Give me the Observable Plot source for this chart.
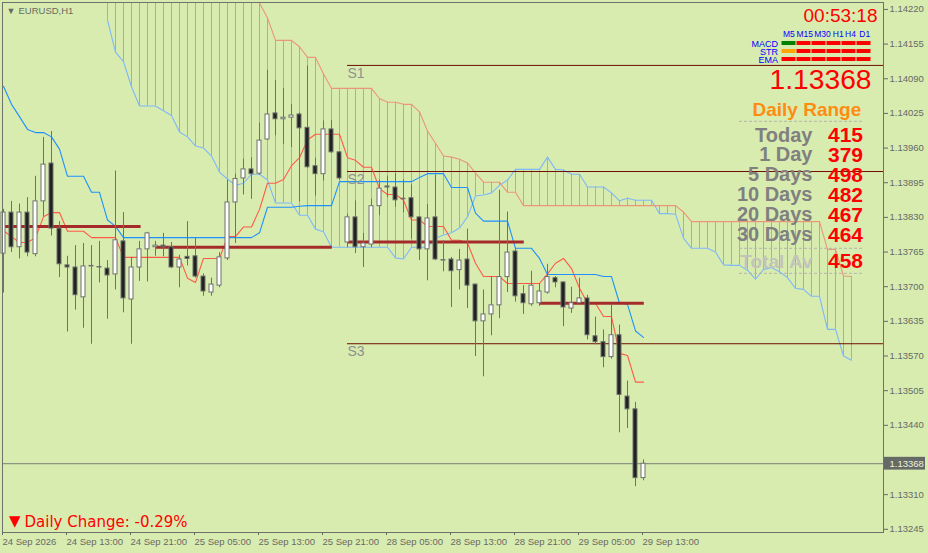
<!DOCTYPE html>
<html><head><meta charset="utf-8">
<style>html,body{margin:0;padding:0;background:#d9ecb0;overflow:hidden}svg{display:block}</style>
<script src="https://cdn.jsdelivr.net/npm/d3@7"></script>
<script src="https://cdn.jsdelivr.net/npm/@observablehq/plot@0.6"></script>
</head><body><script>
const open=[1.13762,1.13839,1.13774,1.13839,1.13761,1.13860,1.13931,1.13809,1.13740,1.13736,
1.13680,1.13738,1.13736,1.13734,1.13723,1.13785,1.13676,1.13736,1.13770,1.13774,
1.13777,1.13774,1.13736,1.13756,1.13757,1.13719,1.13689,1.13702,1.13753,1.13858,
1.13903,1.13920,1.13912,1.13976,1.14025,1.14014,1.14017,1.14023,1.13998,1.13926,
1.13911,1.13995,1.13952,1.13783,1.13830,1.13774,1.13779,1.13851,1.13888,1.13886,
1.13864,1.13866,1.13830,1.13770,1.13830,1.13749,1.13751,1.13731,1.13751,1.13704,
1.13635,1.13648,1.13665,1.13718,1.13766,1.13686,1.13667,1.13669,1.13689,1.13716,
1.13708,1.13659,1.13669,1.13678,1.13607,1.13596,1.13568,1.13609,1.13494,1.13470,1.13341];
const high=[1.13845,1.13860,1.13855,1.13867,1.13907,1.13980,1.13991,1.13822,1.13757,1.13777,
1.13781,1.13777,1.13785,1.13749,1.13917,1.13839,1.13755,1.13785,1.13802,1.13785,
1.13800,1.13783,1.13759,1.13822,1.13792,1.13724,1.13716,1.13764,1.13900,1.13911,
1.13939,1.13942,1.14007,1.14106,1.14087,1.14072,1.14042,1.14026,1.14114,1.13941,
1.14011,1.14012,1.13953,1.13836,1.13861,1.13800,1.13864,1.13900,1.13907,1.13912,
1.13900,1.13891,1.13831,1.13854,1.13909,1.13786,1.13755,1.13770,1.13808,1.13705,
1.13694,1.13719,1.13881,1.13840,1.13772,1.13702,1.13729,1.13706,1.13742,1.13719,
1.13709,1.13699,1.13716,1.13684,1.13643,1.13619,1.13665,1.13628,1.13523,1.13483,1.13375];
const low=[1.13688,1.13764,1.13752,1.13756,1.13756,1.13831,1.13795,1.13717,1.13615,1.13656,
1.13622,1.13592,1.13707,1.13639,1.13694,1.13651,1.13592,1.13710,1.13709,1.13757,
1.13756,1.13734,1.13698,1.13739,1.13716,1.13682,1.13682,1.13698,1.13749,1.13781,
1.13872,1.13864,1.13909,1.13974,1.13983,1.13967,1.13961,1.13859,1.13922,1.13870,
1.13898,1.13950,1.13899,1.13773,1.13762,1.13736,1.13773,1.13833,1.13867,1.13849,
1.13839,1.13789,1.13749,1.13711,1.13749,1.13728,1.13661,1.13694,1.13659,1.13569,
1.13531,1.13608,1.13640,1.13689,1.13671,1.13648,1.13663,1.13663,1.13686,1.13698,
1.13625,1.13650,1.13668,1.13600,1.13591,1.13548,1.13564,1.13426,1.13434,1.13325,1.13336];
const close=[1.13839,1.13774,1.13839,1.13764,1.13860,1.13929,1.13809,1.13742,1.13736,1.13684,
1.13738,1.13738,1.13736,1.13721,1.13787,1.13678,1.13736,1.13770,1.13800,1.13777,
1.13774,1.13736,1.13751,1.13752,1.13719,1.13691,1.13704,1.13755,1.13858,1.13902,
1.13920,1.13911,1.13974,1.14023,1.14014,1.14017,1.14021,1.13997,1.13924,1.13911,
1.13995,1.13952,1.13903,1.13830,1.13774,1.13781,1.13851,1.13884,1.13886,1.13862,
1.13864,1.13830,1.13770,1.13828,1.13751,1.13749,1.13729,1.13749,1.13702,1.13635,
1.13648,1.13665,1.13718,1.13764,1.13682,1.13669,1.13702,1.13691,1.13718,1.13708,
1.13661,1.13669,1.13678,1.13609,1.13596,1.13568,1.13609,1.13497,1.13470,1.13341,1.13368];
const tenkan=[1.13805,1.13794,1.13783,1.13783,1.13792,1.13831,1.13839,1.13839,1.13804,1.13804,
1.13804,1.13792,1.13792,1.13792,1.13792,1.13755,1.13755,1.13755,1.13755,1.13755,
1.13755,1.13755,1.13755,1.13716,1.13708,1.13753,1.13753,1.13753,1.13794,1.13794,
1.13812,1.13812,1.13845,1.13894,1.13894,1.13901,1.13927,1.13942,1.13975,1.13986,
1.13986,1.13986,1.13986,1.13942,1.13937,1.13924,1.13924,1.13884,1.13873,1.13873,
1.13862,1.13825,1.13825,1.13813,1.13813,1.13813,1.13787,1.13787,1.13782,1.13744,
1.13719,1.13719,1.13719,1.13706,1.13706,1.13706,1.13706,1.13706,1.13724,1.13744,
1.13753,1.13734,1.13697,1.13669,1.13669,1.13644,1.13644,1.13575,1.13571,1.13521,1.13521];
const kijun=[1.14076,1.14042,1.14019,1.13995,1.13989,1.13989,1.13981,1.13958,1.13907,1.13907,
1.13907,1.13877,1.13877,1.13825,1.13813,1.13792,1.13792,1.13792,1.13792,1.13792,
1.13792,1.13792,1.13792,1.13792,1.13792,1.13792,1.13792,1.13792,1.13792,1.13792,
1.13792,1.13792,1.13801,1.13849,1.13849,1.13849,1.13849,1.13851,1.13852,1.13852,
1.13852,1.13852,1.13897,1.13897,1.13897,1.13897,1.13897,1.13897,1.13897,1.13897,
1.13897,1.13897,1.13905,1.13912,1.13912,1.13912,1.13886,1.13886,1.13886,1.13838,
1.13823,1.13823,1.13823,1.13823,1.13772,1.13772,1.13772,1.13753,1.13723,1.13723,
1.13723,1.13723,1.13723,1.13723,1.13723,1.13719,1.13719,1.13669,1.13667,1.13617,1.13605];
// Cloud spans: both run from bar 13 to bar 106 (26 bars past the last candle).
const spanStart=13;
const spanA=[1.14200,1.14140,1.14122,1.14075,1.14039,1.14039,1.14039,1.14030,1.14021,
1.13990,1.13981,1.13964,1.13960,1.13945,1.13915,1.13902,1.13890,1.13894,1.13911,
1.13911,1.13900,1.13857,1.13857,1.13857,1.13834,1.13834,1.13808,1.13803,1.13774,
1.13774,1.13774,1.13774,1.13774,1.13774,1.13774,1.13774,1.13754,1.13752,1.13774,
1.13774,1.13774,1.13791,1.13797,1.13801,1.13810,1.13831,1.13870,1.13872,1.13876,
1.13890,1.13900,1.13920,1.13920,1.13920,1.13920,1.13943,1.13920,1.13919,1.13911,
1.13911,1.13887,1.13887,1.13887,1.13876,1.13861,1.13866,1.13862,1.13862,1.13862,
1.13837,1.13837,1.13836,1.13791,1.13772,1.13772,1.13772,1.13765,1.13741,1.13740,
1.13740,1.13731,1.13714,1.13732,1.13736,1.13728,1.13717,1.13697,1.13695,1.13682,
1.13682,1.13620,1.13620,1.13570,1.13562];
const spanB=[1.14245,1.14245,1.14245,1.14245,1.14245,1.14245,1.14245,1.14245,1.14245,
1.14245,1.14245,1.14245,1.14245,1.14245,1.14245,1.14245,1.14245,1.14245,1.14245,
1.14232,1.14204,1.14162,1.14162,1.14162,1.14150,1.14130,1.14130,1.14099,1.14072,
1.14072,1.14072,1.14072,1.14072,1.14072,1.14053,1.14046,1.14046,1.14042,1.14042,
1.14028,1.13992,1.13969,1.13945,1.13943,1.13939,1.13932,1.13913,1.13896,1.13896,
1.13896,1.13877,1.13877,1.13852,1.13852,1.13852,1.13852,1.13852,1.13852,1.13852,
1.13852,1.13852,1.13852,1.13852,1.13852,1.13852,1.13852,1.13852,1.13852,1.13852,
1.13852,1.13852,1.13852,1.13840,1.13822,1.13822,1.13822,1.13822,1.13822,1.13822,
1.13822,1.13822,1.13822,1.13822,1.13822,1.13822,1.13822,1.13822,1.13822,1.13822,
1.13822,1.13770,1.13770,1.13720,1.13719];
const pivotFrom=[0.2,19.1,43.1,67.1];
const pivotTo=[17.2,41.1,65.1,80.1];
const pivotLevel=[1.13813,1.13774,1.13784,1.13669];
const supportNames=["S1","S2","S3"];
const supportLevels=[1.14115,1.13916,1.13593];
const lastPrice=1.13368;
const yTicks=[1.14220,1.14155,1.14090,1.14025,1.13960,1.13895,1.13830,1.13765,1.13700,1.13635,1.13570,1.13505,1.13440,1.13375,1.13310,1.13245];
const xTickBars=[0,8,16,24,32,40,48,56,64,72,80];
const xTickLabels=["24 Sep 2026","24 Sep 13:00","24 Sep 21:00","25 Sep 05:00","25 Sep 13:00","25 Sep 21:00","28 Sep 05:00","28 Sep 13:00","28 Sep 21:00","29 Sep 05:00","29 Sep 13:00"];
const rangeNames=["Today","1 Day","5 Days","10 Days","20 Days","30 Days","Total Av"];
const rangeValues=[415,379,498,482,467,464,458];
const tfNames=["M5","M15","M30","H1","H4","D1"];
const signalNames=["MACD","STR","EMA"];
const macdSignal=["green","red","red","red","red","red"];
const strSignal=["orange","red","red","red","red","red"];
const emaSignal=["red","red","red","red","red","red"];

const bars=open.map((o,i)=>({i,o,h:high[i],l:low[i],c:close[i]}));
const cloud=spanA.map((a,j)=>({i:j+spanStart,a,b:spanB[j]}));
const W=928,H=553,mL=2,mT=2,mR=45,mB=21;
const yTop=1.14233,yBot=1.13239;
const invX=p=>(p-3)/8;
const invY=p=>yTop-(p-2.5)*(yTop-yBot)/530;
const GRAY="#666a66",SANS="Liberation Sans",SALMON="#ea9678",SKY="#7db8f8";
const label=(s,px,py,o={})=>Plot.text([s],{text:d=>d,frameAnchor:"top-left",dx:px-mL,dy:py-mT,lineAnchor:"middle",textAnchor:"start",fontFamily:SANS,...o});

const cellX1=[782,797,812,827,842,857],cellX2=[796,811,826,841,856,871],cellY1=[41.5,49.5,57.5],cellY2=[45.5,53.5,61.5];
const tfX=[788.3,804.2,822,837.7,850,864.2],rowY=[43.8,51.8,59.6],rangeY=[135,154.5,174.5,194.5,214.5,234.5,261];
const signals=[macdSignal,strSignal,emaSignal].flatMap((row,r)=>row.map((fill,c)=>({r,c,fill})));

const chart=Plot.plot({
  width:W,height:H,marginLeft:mL,marginTop:mT,marginRight:mR,marginBottom:mB,
  style:{background:"#d9ecb0",fontFamily:SANS,fontSize:"9.5px",overflow:"visible"},
  x:{type:"linear",domain:[0,110],range:[mL+1,W-mR]},
  y:{type:"linear",domain:[yTop,yBot],range:[mT,H-mB]},
  marks:[
    Plot.ruleX(cloud.filter(d=>d.a<=d.b),{x:"i",y1:"a",y2:"b",stroke:SALMON,strokeWidth:1,clip:true}),
    Plot.ruleX(cloud.filter(d=>d.a>d.b),{x:"i",y1:"a",y2:"b",stroke:SKY,strokeWidth:1,clip:true}),
    Plot.line(cloud,{x:"i",y:"a",stroke:SKY,strokeWidth:1.1,clip:true}),
    Plot.line(cloud,{x:"i",y:"b",stroke:SALMON,strokeWidth:1.1,clip:true}),
    Plot.ruleY(supportLevels,{y:d=>d,x1:invX(347),x2:110,stroke:"#6e0c00",strokeWidth:1}),
    Plot.ruleY([lastPrice],{x1:0,x2:110,stroke:"#7b8078",strokeWidth:1}),
    Plot.line(bars,{x:"i",y:d=>tenkan[d.i],stroke:"#ff5a48",strokeWidth:1.1,clip:true}),
    Plot.line(bars,{x:"i",y:d=>kijun[d.i],stroke:"#1e90ff",strokeWidth:1.1,clip:true}),
    Plot.ruleY(pivotLevel,{y:d=>d,x1:(d,j)=>pivotFrom[j],x2:(d,j)=>pivotTo[j],stroke:"#a52a2a",strokeWidth:3}),
    Plot.ruleX(bars,{x:"i",y1:"l",y2:"h",stroke:"#6e716c",strokeWidth:1}),
    Plot.rect(bars,{x1:d=>d.i-0.25,x2:d=>d.i+0.25,y1:"o",y2:d=>Math.abs(d.o-d.c)<1e-5?d.o+1e-5:d.c,
      fill:d=>d.c>=d.o?"#fff":"#222",stroke:"#6e716c",strokeWidth:1}),
    Plot.frame({stroke:"#6e716c",strokeWidth:1}),
    Plot.axisY({anchor:"right",ticks:yTicks,tickFormat:d=>d.toFixed(5),tickSize:4,tickPadding:2,label:null,stroke:GRAY,fill:GRAY}),
    Plot.axisX({anchor:"bottom",ticks:xTickBars,tickFormat:d=>xTickLabels[xTickBars.indexOf(d)],tickSize:3,tickPadding:3,label:null,textAnchor:"start",dx:-1,stroke:GRAY,fill:GRAY}),
    Plot.rect([lastPrice],{x1:invX(884),x2:invX(925),y1:d=>d+0.00012,y2:d=>d-0.00012,fill:"#666a66"}),
    Plot.text([lastPrice],{x:invX(889),y:d=>d,text:d=>d.toFixed(5),textAnchor:"start",fill:"#eef2dc",fontSize:9.5}),
    label("▼",6,10.5,{fontSize:9,fill:GRAY}),
    label("EURUSD,H1",18,10,{fontSize:9.5,fill:GRAY}),
    ...supportNames.map((s,j)=>label(s,347,[73.5,179.5,351.5][j],{fontSize:14,fill:"#8e9190"})),
    label("00:53:18",877,15,{fontSize:19,fill:"#ff0000",textAnchor:"end"}),
    ...tfNames.map((s,j)=>label(s,tfX[j],33.5,{fontSize:8.5,fill:"#0000ff",textAnchor:"middle"})),
    ...signalNames.map((s,j)=>label(s,777.5,rowY[j],{fontSize:9,fill:"#0000ff",textAnchor:"end"})),
    Plot.rect(signals,{x1:d=>invX(cellX1[d.c]-0.5),x2:d=>invX(cellX2[d.c]-0.5),y1:d=>invY(cellY1[d.r]),y2:d=>invY(cellY2[d.r]),fill:d=>d.fill}),
    label("1.13368",871,79.5,{fontSize:28.2,fill:"#ff0000",textAnchor:"end"}),
    label("Daily Range",752,109.5,{fontSize:19,fontWeight:"bold",fill:"#ff8c10"}),
    Plot.ruleY([121.3,248.3,273.3],{y:invY,x1:invX(739),x2:invX(862),stroke:"#b3b5ad",strokeDasharray:"3,2",strokeWidth:1}),
    ...rangeNames.map((s,j)=>label(s,812,rangeY[j],{fontSize:j===6?19:20,fontWeight:"bold",fill:j===6?"#c2c4ba":"#808080",textAnchor:"end"})),
    ...rangeValues.map((v,j)=>label(String(v),862.5,rangeY[j],{fontSize:21,fontWeight:"bold",fill:"#ff0000",textAnchor:"end"})),
    label("▼",8.5,521,{fontSize:15,fill:"#ff0000",fontFamily:"DejaVu Sans"}),
    label("Daily Change: -0.29%",24,522,{fontSize:15,fill:"#ff0000",fontFamily:"DejaVu Sans"})
  ]
});
document.body.appendChild(chart);
</script></body></html>
